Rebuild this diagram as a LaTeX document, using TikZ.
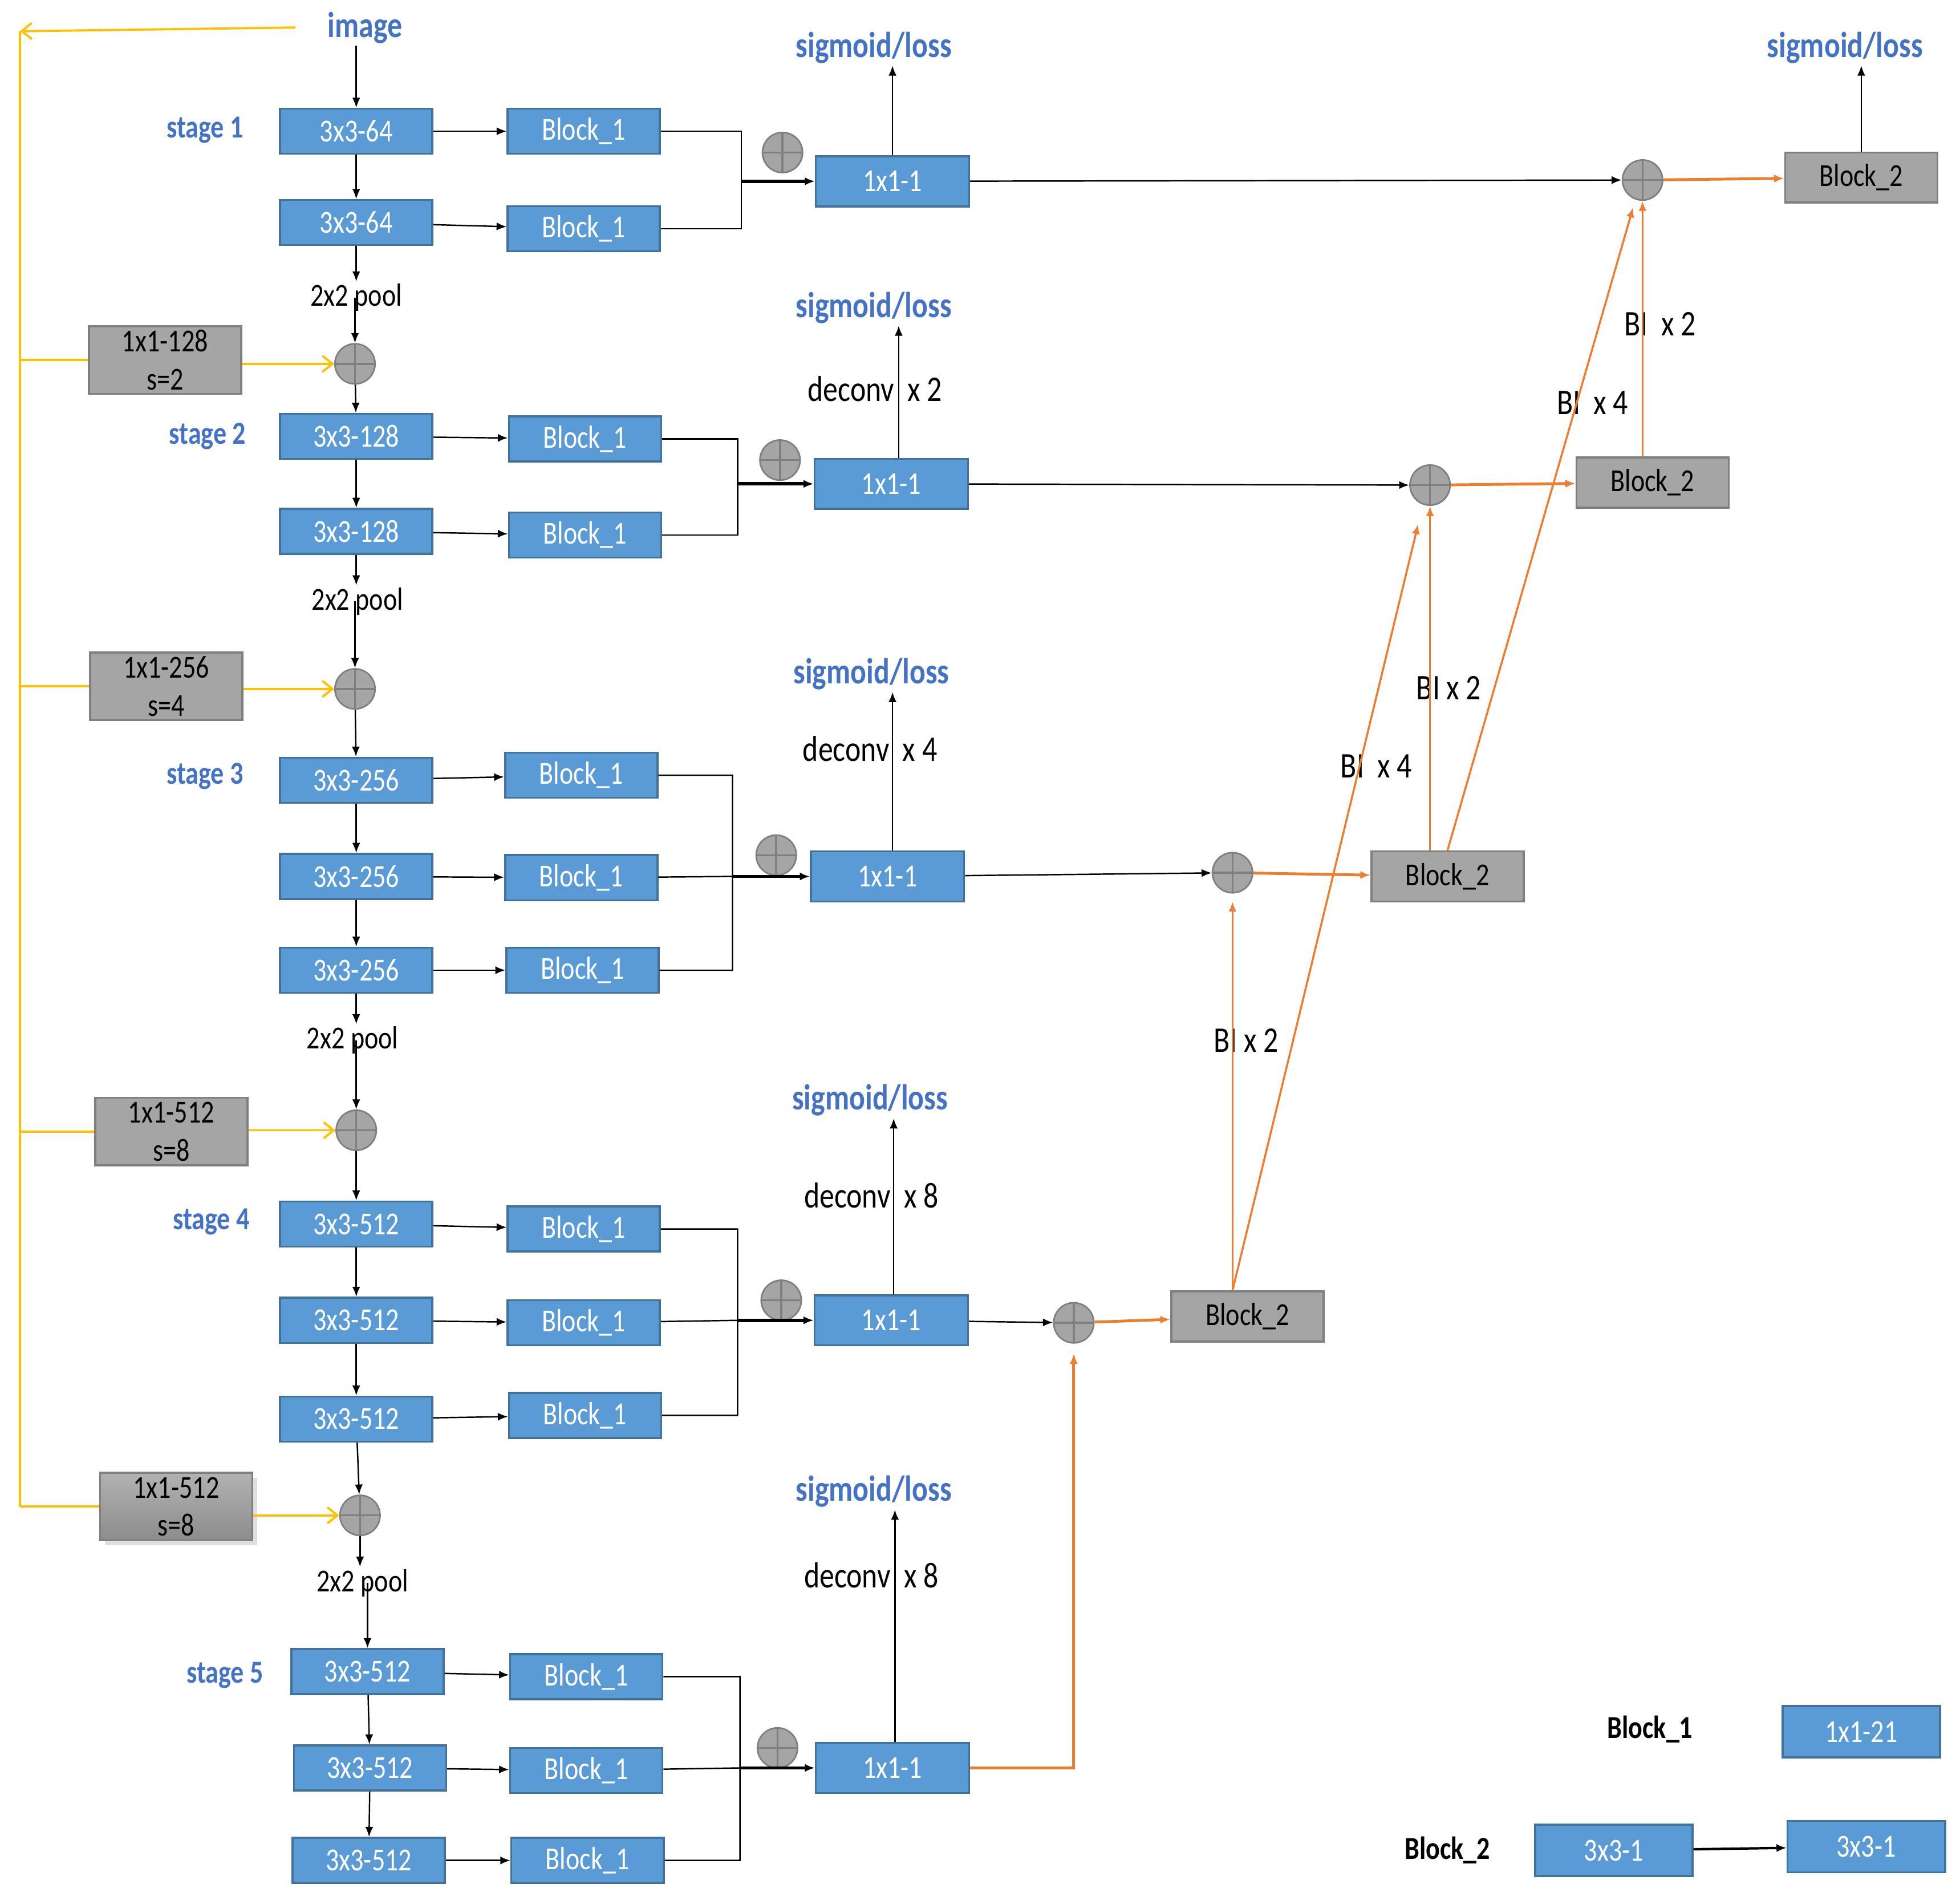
\documentclass[tikz,border=0pt]{standalone}
\usepackage{fontspec}
\setmainfont{Carlito}[FakeStretch=0.82]
\usepackage{tikz}
\usepackage{xcolor}
\usetikzlibrary{arrows.meta}
\usetikzlibrary{shadows}
\definecolor{boxblue}{HTML}{5B9BD5}
\definecolor{boxblueline}{HTML}{41719C}
\definecolor{boxgray}{HTML}{A5A5A5}
\definecolor{boxgrayline}{HTML}{7F7F7F}
\definecolor{graytop}{HTML}{B2B2B2}
\definecolor{graybot}{HTML}{8C8C8C}
\definecolor{lineorange}{HTML}{ED7D31}
\definecolor{lineyellow}{HTML}{FFC000}
\definecolor{textblue}{HTML}{4472C4}
\newcommand{\boxfont}{\fontsize{16pt}{19pt}\selectfont}
\newcommand{\labfont}{\fontsize{18pt}{21pt}\selectfont}

\begin{document}
\begin{tikzpicture}[>={Latex[length=5pt,width=4pt]}, x=0.02192cm, y=-0.02192cm,
	conv/.style={draw=boxblueline, line width=1pt, fill=boxblue, text=white, font=\boxfont,
		minimum width=76pt, minimum height=22.5pt, inner sep=0pt},
	outbox/.style={conv, minimum width=76.5pt, minimum height=25pt},
	legbox/.style={conv, minimum width=78.6pt, minimum height=25.6pt},
	blocktwo/.style={draw=boxgrayline, line width=1pt, fill=boxgray, font=\boxfont,
		minimum width=76pt, minimum height=25pt, inner sep=0pt},
	sidebox/.style={blocktwo, minimum height=33.7pt, align=center},
	sumnode/.style={circle, draw=boxgrayline, line width=0.8pt, fill=boxgray, minimum size=20pt, inner sep=0pt,
		path picture={\draw[boxgrayline, line width=1pt]
			(path picture bounding box.north) -- (path picture bounding box.south)
			(path picture bounding box.west) -- (path picture bounding box.east);}},
	bluelab/.style={text=textblue, font=\labfont\bfseries, inner sep=1pt},
	stagelab/.style={text=textblue, font=\boxfont\bfseries},
	txt/.style={font=\boxfont, inner sep=1pt},
	biglab/.style={font=\labfont, inner sep=1pt},
	conn/.style={line width=0.7pt},
	feed/.style={->, line width=1.6pt},
	yline/.style={draw=lineyellow, line width=1.1pt},
	oline/.style={draw=lineorange, line width=1pt, ->},
	barb/.style={-{Straight Barb[length=5pt,width=8pt]}}]
	\path[fill=white, use as bounding box] (0,0) rectangle (1568,1516.4);
	
	% stage 1
	\node[bluelab] (img) at (292,22) {image};
	\node[stagelab] (st1) at (164,104) {stage 1};
	\node[conv] (c11) at (285,105) {3x3-64};
	\node[conv] (c12) at (285,178) {3x3-64};
	\node[conv] (b11) at (467,105) {Block\_1};
	\node[conv] (b12) at (467,183) {Block\_1};
	\node[txt] (pl1) at (285,238) {2x2 pool};
	\node[sumnode] (p1) at (626,122) {};
	\node[outbox] (o1) at (714,145) {1x1-1};
	\node[bluelab] (sl1) at (699,38) {sigmoid/loss};
	\coordinate (j1) at (593,145);
	
	% stage 2
	\node[sidebox] (g2) at (132,288) {1x1-128\\s=2};
	\node[sumnode] (a2) at (284,291) {};
	\node[stagelab] (st2) at (166,349) {stage 2};
	\node[conv] (c21) at (285,349) {3x3-128};
	\node[conv] (c22) at (285,425) {3x3-128};
	\node[conv] (b21) at (468,351) {Block\_1};
	\node[conv] (b22) at (468,428) {Block\_1};
	\node[txt] (pl2) at (286,481) {2x2 pool};
	\node[sumnode] (p2) at (624,368) {};
	\node[outbox] (o2) at (713,387) {1x1-1};
	\node[biglab] (dc2) at (700,311) {deconv~ x 2};
	\node[bluelab] (sl2) at (699,246) {sigmoid/loss};
	\coordinate (j2) at (590,387);
	
	% stage 3
	\node[sidebox] (g3) at (133,549) {1x1-256\\s=4};
	\node[sumnode] (a3) at (284,551) {};
	\node[stagelab] (st3) at (164,621) {stage 3};
	\node[conv] (c31) at (285,624) {3x3-256};
	\node[conv] (c32) at (285,701) {3x3-256};
	\node[conv] (c33) at (285,776) {3x3-256};
	\node[conv] (b31) at (465,620) {Block\_1};
	\node[conv] (b32) at (465,702) {Block\_1};
	\node[conv] (b33) at (466,776) {Block\_1};
	\node[txt] (pl3) at (282,832) {2x2 pool};
	\node[sumnode] (p3) at (621,684) {};
	\node[outbox] (o3) at (710,701) {1x1-1};
	\node[biglab] (dc3) at (696,599) {deconv~ x 4};
	\node[bluelab] (sl3) at (697,539) {sigmoid/loss};
	\coordinate (j3) at (586,701);
	
	% stage 4
	\node[sidebox] (g4) at (137,905) {1x1-512\\s=8};
	\node[sumnode] (a4) at (285,904) {};
	\node[stagelab] (st4) at (169,977) {stage 4};
	\node[conv] (c41) at (285,979) {3x3-512};
	\node[conv] (c42) at (285,1056) {3x3-512};
	\node[conv] (c43) at (285,1135) {3x3-512};
	\node[conv] (b41) at (467,983) {Block\_1};
	\node[conv] (b42) at (467,1058) {Block\_1};
	\node[conv] (b43) at (468,1132) {Block\_1};
	\node[sumnode] (p4) at (625,1040) {};
	\node[outbox] (o4) at (713,1056) {1x1-1};
	\node[biglab] (dc4) at (697,956) {deconv~ x 8};
	\node[bluelab] (sl4) at (696,880) {sigmoid/loss};
	\coordinate (j4) at (590,1056);
	
	% stage 5
	\node[sidebox, top color=graytop, bottom color=graybot, drop shadow={opacity=0.25}] (g5) at (141,1205) {1x1-512\\s=8};
	\node[sumnode] (a5) at (288,1212) {};
	\node[txt] (pl5) at (290,1266) {2x2 pool};
	\node[stagelab] (st5) at (180,1340) {stage 5};
	\node[conv] (c51) at (294,1337) {3x3-512};
	\node[conv] (c52) at (296,1414) {3x3-512};
	\node[conv] (c53) at (295,1488) {3x3-512};
	\node[conv] (b51) at (469,1341) {Block\_1};
	\node[conv] (b52) at (469,1416) {Block\_1};
	\node[conv] (b53) at (470,1488) {Block\_1};
	\node[sumnode] (p5) at (622,1398) {};
	\node[outbox] (o5) at (714,1414) {1x1-1};
	\node[biglab] (dc5) at (697,1260) {deconv~ x 8};
	\node[bluelab] (sl5) at (699,1193) {sigmoid/loss};
	\coordinate (j5) at (592,1414);
	
	% fusion
	\node[sumnode] (f4) at (859,1058) {};
	\node[blocktwo] (k4) at (998,1053) {Block\_2};
	\node[sumnode] (f3) at (986,698) {};
	\node[blocktwo] (k3) at (1158,701) {Block\_2};
	\node[sumnode] (f2) at (1144,388) {};
	\node[blocktwo] (k2) at (1322,386) {Block\_2};
	\node[sumnode] (f1) at (1314,144) {};
	\node[blocktwo] (k1) at (1489,142) {Block\_2};
	\node[bluelab] (sl6) at (1476,38) {sigmoid/loss};
	\node[biglab] (bi1) at (997,832) {BI x 2};
	\node[biglab] (bi2) at (1101,613) {BI~ x 4};
	\node[biglab] (bi3) at (1159,550) {BI x 2};
	\node[biglab] (bi4) at (1274,322) {BI~ x 4};
	\node[biglab] (bi5) at (1328,259) {BI~ x 2};
	
	% legend
	\node[txt, font=\boxfont\bfseries] (lg1) at (1320,1383) {Block\_1};
	\node[legbox] (l1) at (1489,1385) {1x1-21};
	\node[txt, font=\boxfont\bfseries] (lg2) at (1158,1480) {Block\_2};
	\node[legbox] (l2) at (1291,1480) {3x3-1};
	\node[legbox] (l3) at (1493,1477) {3x3-1};
	\draw[->, line width=1.2pt] (l2) -- (l3);
	
	% backbone
	\draw[conn,->] (c11.north |- img.south) -- (c11.north);
	\foreach \u/\v in {c11/c12, c21/c22, c31/c32, c32/c33, c41/c42, c42/c43, c51/c52, c52/c53,
		a2/c21, a3/c31, a4/c41, c43/a5}
	\draw[conn,->] (\u) -- (\v);
	\foreach \u/\p/\v in {c12/pl1/a2, c22/pl2/a3, c33/pl3/a4, a5/pl5/c51} {
		\draw[conn,->] (\u) -- (\u |- \p.north);
		\draw[conn,->] (\v |- \p.center) -- (\v);
	}
	\foreach \u/\v in {c11/b11, c12/b12, c21/b21, c22/b22, c31/b31, c32/b32, c33/b33,
		c41/b41, c42/b42, c43/b43, c51/b51, c52/b52, c53/b53}
	\draw[conn,->] (\u) -- (\v);
	
	% side outputs
	\draw[conn] (b11.east) -| (j1) |- (b12.east);
	\draw[conn] (b21.east) -| (j2) |- (b22.east);
	\draw[conn] (b31.east) -| (j3) |- (b33.east) (b32) -- (j3);
	\draw[conn] (b41.east) -| (j4) |- (b43.east) (b42) -- (j4);
	\draw[conn] (b51.east) -| (j5) |- (b53.east) (b52) -- (j5);
	\foreach \i in {1,...,5}
	\draw[feed] (j\i) -- (o\i.west);
	\foreach \i/\s in {1/0, 2/3.7, 3/2.5, 4/1.2, 5/1.2}
	\draw[conn,->] ([xshift=\s pt]o\i.north) -- ([xshift=\s pt]o\i.north |- sl\i.south);
	
	% yellow shortcuts
	\coordinate (ytop) at (16,25);
	\draw[yline, barb] ([xshift=-15pt]img.west) -- (ytop);
	\draw[yline] (ytop) -- (g5.west -| ytop);
	\foreach \g/\a in {g2/a2, g3/a3, g4/a4, g5/a5} {
		\draw[yline] (\g.west -| ytop) -- (\g.west);
		\draw[yline, barb] (\a.west -| \g.east) -- (\a.west);
	}
	
	% fusion paths
	\foreach \i in {1,...,4} {
		\draw[conn,->] (o\i) -- (f\i);
		\draw[oline, line width=1.4pt] (f\i) -- (k\i);
	}
	\draw[oline, line width=1.4pt, shorten >=5pt] (o5.east) -- (f4 |- o5.east) -- (f4.south);
	\draw[oline, shorten >=4pt] (k4.north -| f3) -- (f3.south);
	\draw[oline, shorten >=10pt] (k4.north -| f3) -- (f2.-110);
	\draw[oline] (k3.north -| f2) -- (f2.south);
	\draw[oline, shorten >=4pt] (k3.north) -- (f1.-110);
	\draw[oline] (k2.north -| f1) -- (f1.south);
	\draw[conn,->] (k1.north) -- (k1.north |- sl6.south);
	
\end{tikzpicture}
\end{document}
